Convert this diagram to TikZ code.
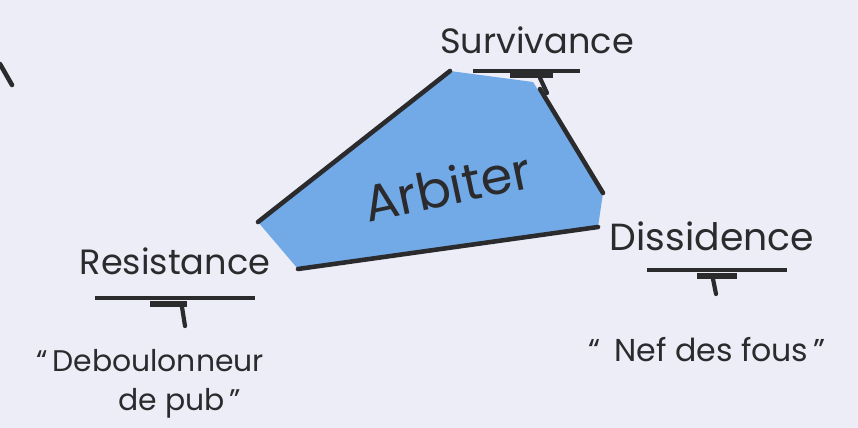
\documentclass[tikz,border=0pt]{standalone}
\usepackage{fontspec}
\setmainfont{Poppins}
\usetikzlibrary{calc}
\definecolor{paper}{HTML}{EDEDF7}
\definecolor{arbfill}{HTML}{72AAE8}
\definecolor{ink}{HTML}{2B2B2E}

\begin{document}
\begin{tikzpicture}[
  x=0.02cm, y=-0.02cm,
  lab/.style={font=\fontsize{20}{24}\selectfont, text=ink, inner sep=0pt},
  quo/.style={font=\fontsize{17}{22}\selectfont, text=ink, align=center, inner sep=0pt},
  side/.style={draw=ink, line width=2.6pt, line cap=round},
  bar/.style={draw=ink, line width=2.2pt},
  grip/.style={draw=ink, line width=2.4pt, line cap=round}]
% ---------------- paper
\fill[paper] (0,0) rectangle (858,428);
\useasboundingbox (0,0) rectangle (858,428);
% ---------------- polygon corners (px)
\coordinate (pl) at (258,222);
\coordinate (pt) at (450,71);
\coordinate (ptr) at (533,82);
\coordinate (pr) at (603,193);
\coordinate (pbr) at (598,227);
\coordinate (pbl) at (298,269);
\fill[arbfill] (pl) -- (pt) -- (ptr) -- (pr) -- (pbr) -- (pbl) -- cycle;
\node[lab, font=\fontsize{29}{33}\selectfont, rotate=12] (arb) at (447,186) {Arbiter};
% ---------------- labels
\node[lab] (surv) at (537,40)  {Survivance};
\node[lab, font=\fontsize{21.5}{25}\selectfont] (diss) at (712,236) {Dissidence};
\node[lab] (resi) at (175,261) {Resistance};
\node[quo] (qresi) at (150,384) {``\,Deboulonneur\\\hspace*{2em}de pub\,''};
\node[quo, font=\fontsize{18}{22}\selectfont] (qdiss) at (707,350) {``\;\,Nef des fous\,''};
% ---------------- bars under the labels
\draw[bar] (473,71) -- (580,71);
\draw[bar, line width=3pt] (510,75) -- (553,75);
\draw[grip] (540,78) -- (547,93);
\draw[bar] (95,298) -- (255,298);
\draw[bar, line width=3pt] (150,304) -- (187,304);
\draw[grip] (182,307) -- (185,326);
\draw[bar] (647,270) -- (787,270);
\draw[bar, line width=3pt] (697,276) -- (737,276);
\draw[grip] (713,279) -- (716,294);
% ---------------- edges
\draw[side] (pl) -- (pt);
\draw[side] (540,89) -- (pr);
\draw[side] (pbl) -- (pbr);
\coordinate (cut) at (0,64);
\draw[side] (cut) -- ++(12,21);
\end{tikzpicture}
\end{document}
